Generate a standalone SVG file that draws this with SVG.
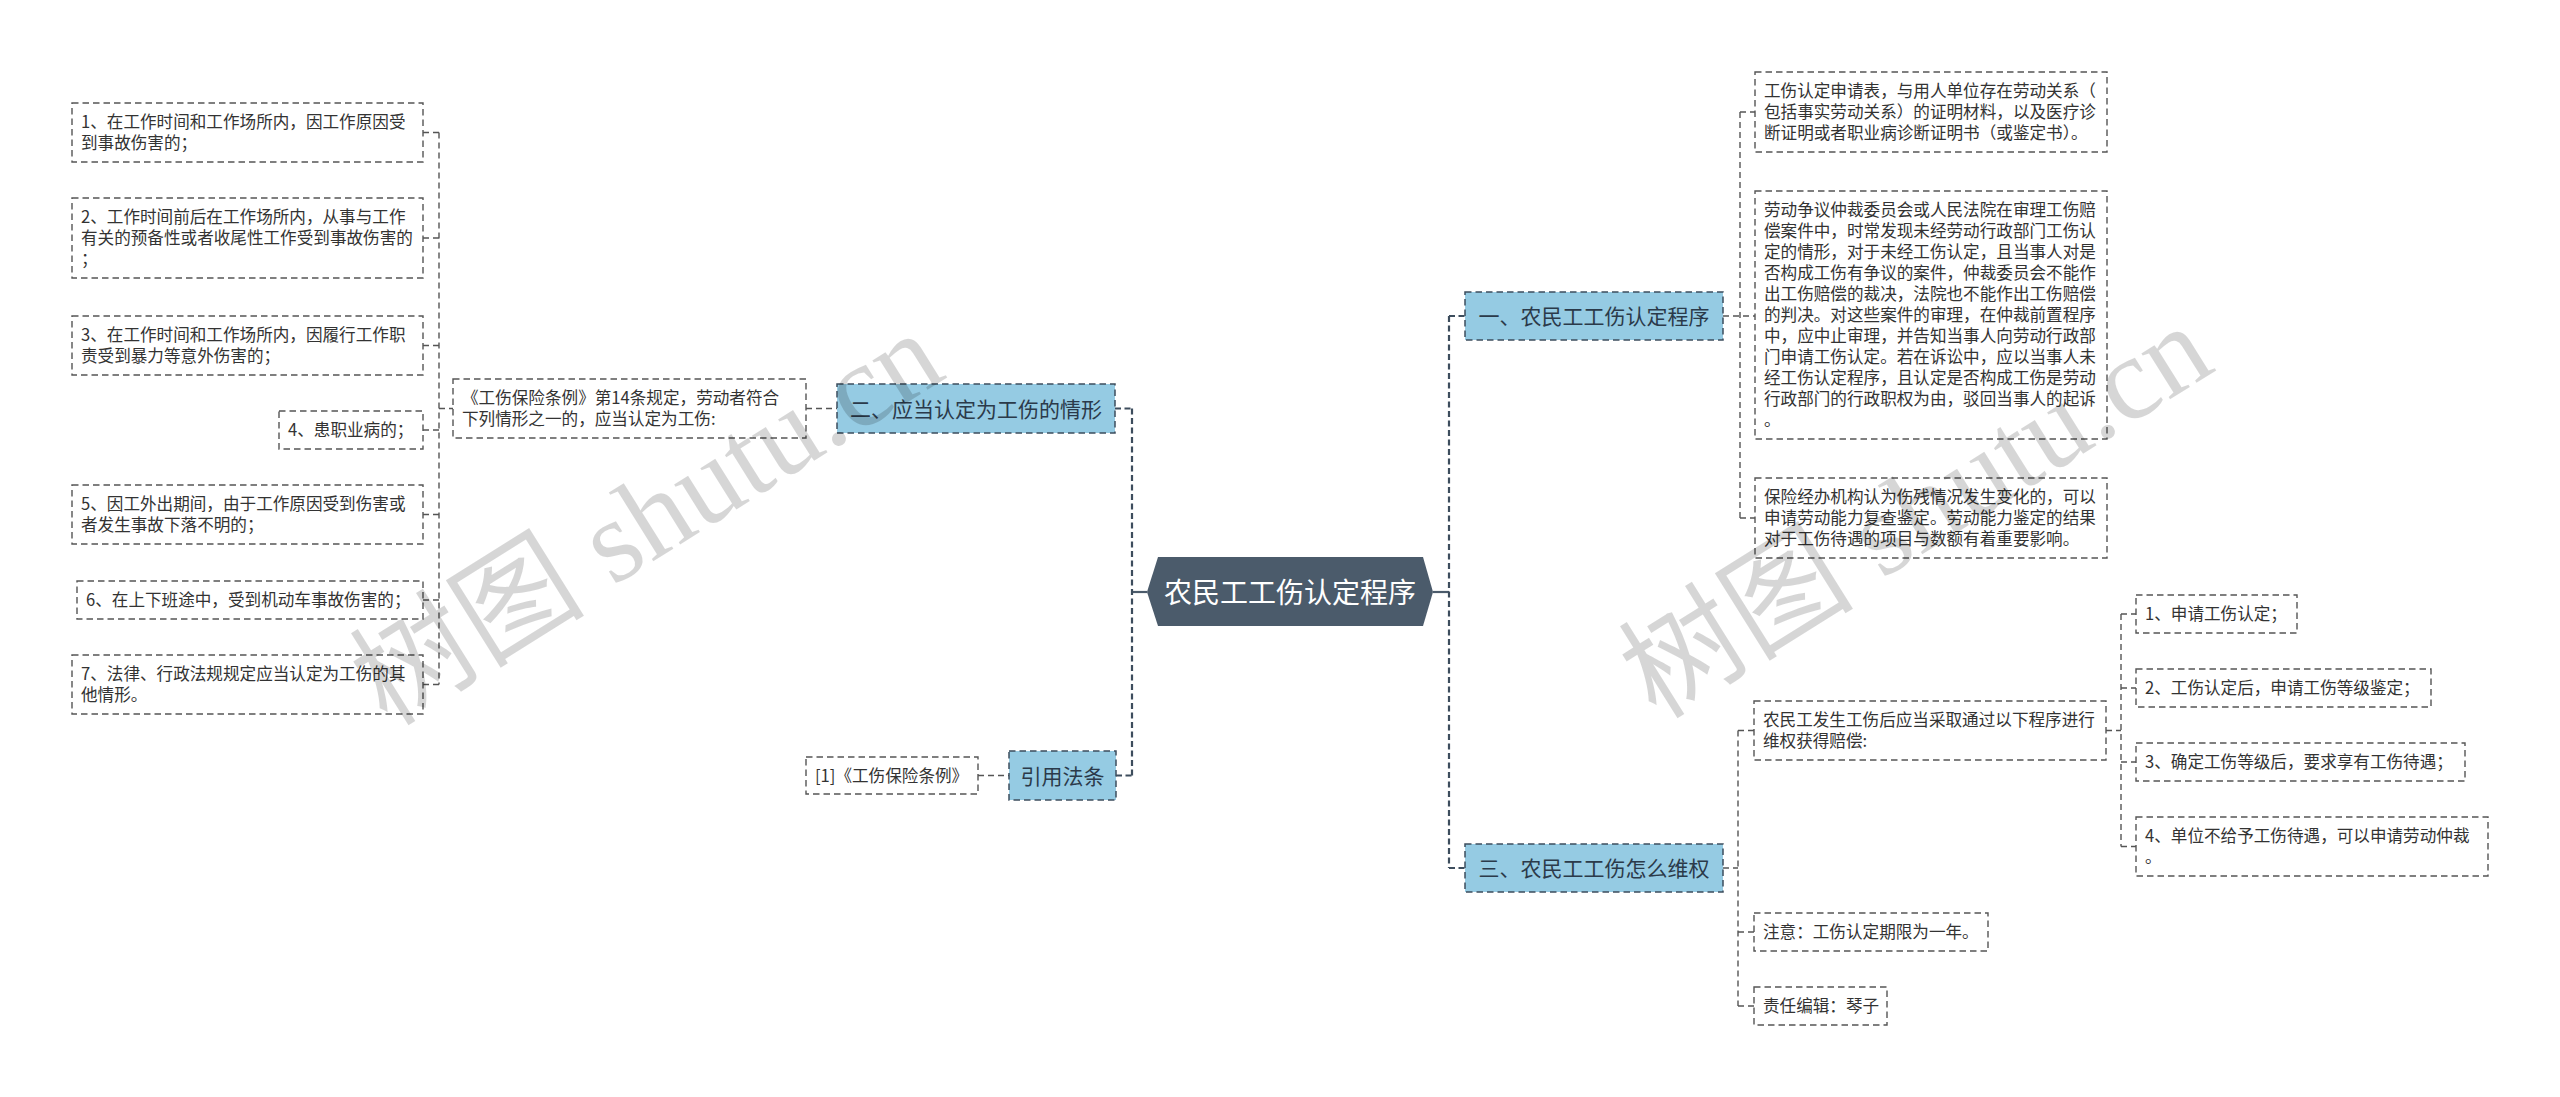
<svg xmlns="http://www.w3.org/2000/svg" width="2560" height="1097" viewBox="0 0 2560 1097">
<style>
.leaf{fill:#ffffff;stroke:#555;stroke-width:1.4;stroke-dasharray:6.5 4}
.br{fill:#95cbe3;stroke:#3d4d5d;stroke-width:1.5;stroke-dasharray:6.5 4}
.lt{font-family:"Noto Sans CJK SC","Liberation Sans",sans-serif;font-size:16.6px;fill:#333}
.bt{font-family:"Noto Sans CJK SC","Liberation Sans",sans-serif;font-size:21px;fill:#2b3a4a;text-anchor:middle}
.ct{font-family:"Noto Sans CJK SC","Liberation Sans",sans-serif;font-size:28px;fill:#ffffff;text-anchor:middle}
.c{fill:none;stroke:#555;stroke-width:1.4;stroke-dasharray:6 4}
.cm{fill:none;stroke:#3d4d5d;stroke-width:2.2;stroke-dasharray:6 3.5}
.cs{fill:none;stroke:#4b5b6b;stroke-width:2.2}
.wm{font-family:"Liberation Serif","Noto Sans CJK SC",serif;font-size:118px;fill:#000;fill-opacity:0.16;text-anchor:middle}
</style>
<rect x="0" y="0" width="2560" height="1097" fill="#ffffff"/>

<g id="connectors">
  <path class="cs" d="M1147 592 H1132"/>
  <path class="cm" d="M1132 408.5 V775.5 M1115 408.5 H1132 M1116 775.5 H1132"/>
  <path class="cs" d="M1433 592 H1449"/>
  <path class="cm" d="M1449 316 V868 M1449 316 H1465 M1449 868 H1465"/>
  <path class="c" d="M806 408.5 H837"/>
  <path class="c" d="M439 132.5 V684.5 M439 408.5 H453 M423 132.5 H439 M423 238 H439 M423 345.5 H439 M423 430 H439 M423 514.5 H439 M423 600 H439 M423 684.5 H439"/>
  <path class="c" d="M978 775.5 H1009"/>
  <path class="c" d="M1740 112 V518 M1723 316 H1755 M1740 112 H1755 M1740 518 H1755"/>
  <path class="c" d="M1738 730.5 V1006 M1723 868 H1738 M1738 730.5 H1754 M1738 932 H1754 M1738 1006 H1754"/>
  <path class="c" d="M2121 614 V846.5 M2106 730.5 H2121 M2121 614 H2136 M2121 688 H2136 M2121 762 H2136 M2121 846.5 H2136"/>
</g>

<g id="center">
  <polygon points="1147,592 1158,557 1423,557 1433,592 1423,626 1158,626" fill="#4b5b6b"/>
  <text class="ct" x="1290" y="602.5">农民工工伤认定程序</text>
</g>

<g id="b2">
  <rect class="br" x="837" y="384" width="278" height="49"/>
  <text class="bt" x="976" y="416.5">二、应当认定为工伤的情形</text>
</g>
<g id="bref">
  <rect class="br" x="1009" y="751" width="107" height="49"/>
  <text class="bt" x="1062.5" y="783.5">引用法条</text>
</g>
<g id="b1">
  <rect class="br" x="1465" y="292" width="258" height="48"/>
  <text class="bt" x="1594" y="324">一、农民工工伤认定程序</text>
</g>
<g id="b3">
  <rect class="br" x="1465" y="844" width="258" height="48"/>
  <text class="bt" x="1594" y="876">三、农民工工伤怎么维权</text>
</g>

<g id="p14">
  <rect class="leaf" x="453" y="379" width="353" height="59"/>
  <text class="lt" x="462" y="404">《工伤保险条例》第14条规定，劳动者符合</text>
  <text class="lt" x="462" y="425">下列情形之一的，应当认定为工伤:</text>
</g>

<g id="l1">
  <rect class="leaf" x="72" y="103" width="351" height="59"/>
  <text class="lt" x="81" y="128">1、在工作时间和工作场所内，因工作原因受</text>
  <text class="lt" x="81" y="149">到事故伤害的；</text>
</g>
<g id="l2">
  <rect class="leaf" x="72" y="198" width="351" height="80"/>
  <text class="lt" x="81" y="223">2、工作时间前后在工作场所内，从事与工作</text>
  <text class="lt" x="81" y="244">有关的预备性或者收尾性工作受到事故伤害的</text>
  <text class="lt" x="81" y="265">；</text>
</g>
<g id="l3">
  <rect class="leaf" x="72" y="316" width="351" height="59"/>
  <text class="lt" x="81" y="341">3、在工作时间和工作场所内，因履行工作职</text>
  <text class="lt" x="81" y="362">责受到暴力等意外伤害的；</text>
</g>
<g id="l4">
  <rect class="leaf" x="279" y="411" width="144" height="38"/>
  <text class="lt" x="288" y="436">4、患职业病的；</text>
</g>
<g id="l5">
  <rect class="leaf" x="72" y="485" width="351" height="59"/>
  <text class="lt" x="81" y="510">5、因工外出期间，由于工作原因受到伤害或</text>
  <text class="lt" x="81" y="531">者发生事故下落不明的；</text>
</g>
<g id="l6">
  <rect class="leaf" x="77" y="581" width="346" height="38"/>
  <text class="lt" x="86" y="606">6、在上下班途中，受到机动车事故伤害的；</text>
</g>
<g id="l7">
  <rect class="leaf" x="72" y="655" width="351" height="59"/>
  <text class="lt" x="81" y="680">7、法律、行政法规规定应当认定为工伤的其</text>
  <text class="lt" x="81" y="701">他情形。</text>
</g>

<g id="ref1">
  <rect class="leaf" x="806" y="757" width="172" height="37"/>
  <text class="lt" x="815" y="781.5">[1]《工伤保险条例》</text>
</g>

<g id="a">
  <rect class="leaf" x="1755" y="72" width="352" height="80"/>
  <text class="lt" x="1764" y="97">工伤认定申请表，与用人单位存在劳动关系（</text>
  <text class="lt" x="1764" y="118">包括事实劳动关系）的证明材料，以及医疗诊</text>
  <text class="lt" x="1764" y="139">断证明或者职业病诊断证明书（或鉴定书）。</text>
</g>
<g id="b">
  <rect class="leaf" x="1755" y="191" width="352" height="248"/>
  <text class="lt" x="1764" y="216">劳动争议仲裁委员会或人民法院在审理工伤赔</text>
  <text class="lt" x="1764" y="237">偿案件中，时常发现未经劳动行政部门工伤认</text>
  <text class="lt" x="1764" y="258">定的情形，对于未经工伤认定，且当事人对是</text>
  <text class="lt" x="1764" y="279">否构成工伤有争议的案件，仲裁委员会不能作</text>
  <text class="lt" x="1764" y="300">出工伤赔偿的裁决，法院也不能作出工伤赔偿</text>
  <text class="lt" x="1764" y="321">的判决。对这些案件的审理，在仲裁前置程序</text>
  <text class="lt" x="1764" y="342">中，应中止审理，并告知当事人向劳动行政部</text>
  <text class="lt" x="1764" y="363">门申请工伤认定。若在诉讼中，应以当事人未</text>
  <text class="lt" x="1764" y="384">经工伤认定程序，且认定是否构成工伤是劳动</text>
  <text class="lt" x="1764" y="405">行政部门的行政职权为由，驳回当事人的起诉</text>
  <text class="lt" x="1764" y="426">。</text>
</g>
<g id="c">
  <rect class="leaf" x="1755" y="478" width="352" height="80"/>
  <text class="lt" x="1764" y="503">保险经办机构认为伤残情况发生变化的，可以</text>
  <text class="lt" x="1764" y="524">申请劳动能力复查鉴定。劳动能力鉴定的结果</text>
  <text class="lt" x="1764" y="545">对于工伤待遇的项目与数额有着重要影响。</text>
</g>

<g id="d">
  <rect class="leaf" x="1754" y="701" width="352" height="59"/>
  <text class="lt" x="1763" y="726">农民工发生工伤后应当采取通过以下程序进行</text>
  <text class="lt" x="1763" y="747">维权获得赔偿:</text>
</g>
<g id="e">
  <rect class="leaf" x="1754" y="913" width="234" height="38"/>
  <text class="lt" x="1763" y="938">注意：工伤认定期限为一年。</text>
</g>
<g id="f">
  <rect class="leaf" x="1754" y="987" width="133" height="38"/>
  <text class="lt" x="1763" y="1012">责任编辑：琴子</text>
</g>

<g id="g1">
  <rect class="leaf" x="2136" y="595" width="161" height="38"/>
  <text class="lt" x="2145" y="620">1、申请工伤认定；</text>
</g>
<g id="g2">
  <rect class="leaf" x="2136" y="669" width="295" height="38"/>
  <text class="lt" x="2145" y="694">2、工伤认定后，申请工伤等级鉴定；</text>
</g>
<g id="g3">
  <rect class="leaf" x="2136" y="743" width="329" height="38"/>
  <text class="lt" x="2145" y="768">3、确定工伤等级后，要求享有工伤待遇；</text>
</g>
<g id="g4">
  <rect class="leaf" x="2136" y="817" width="352" height="59"/>
  <text class="lt" x="2145" y="842">4、单位不给予工伤待遇，可以申请劳动仲裁</text>
  <text class="lt" x="2145" y="863">。</text>
</g>

<g id="watermark">
  <text class="wm" transform="translate(668,552) rotate(-32)">树图 shutu.cn</text>
  <text class="wm" transform="translate(1937,545) rotate(-32)">树图 shutu.cn</text>
</g>
</svg>
